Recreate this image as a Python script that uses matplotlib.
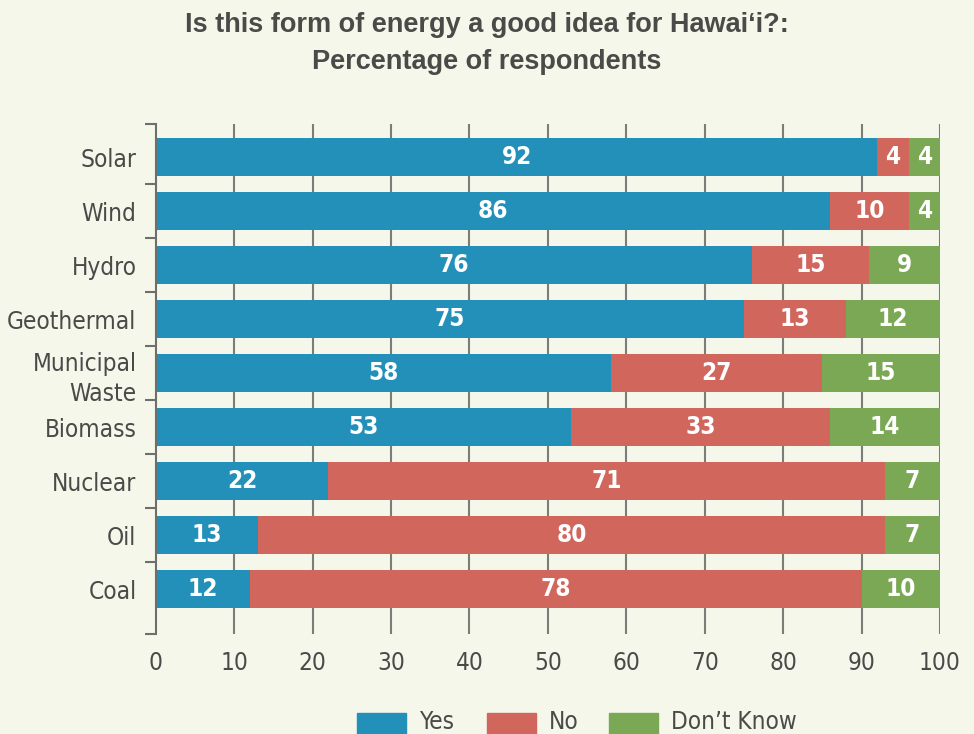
import os
import matplotlib.pyplot as plt
import matplotlib.font_manager as fm
from matplotlib.patches import Rectangle
import numpy as np

# data
sources = ['Solar', 'Wind', 'Hydro', 'Geothermal', 'Municipal\nWaste',
           'Biomass', 'Nuclear', 'Oil', 'Coal']
yes = [92, 86, 76, 75, 58, 53, 22, 13, 12]
no = [4, 10, 15, 13, 27, 33, 71, 80, 78]
dont_know = [4, 4, 9, 12, 15, 14, 7, 7, 10]
series_names = ['Yes', 'No', 'Don\u2019t Know']


def pick(files, fallback_bold=False):
    # find a font file by name, else DejaVu
    for n in files:
        for f in fm.fontManager.ttflist:
            if os.path.basename(f.fname) == n:
                return f.fname
    return fm.findfont(fm.FontProperties(family='DejaVu Sans',
                                         weight='bold' if fallback_bold else 'normal'))


narrow = pick(['LiberationSansNarrow-Regular.ttf', 'DejaVuSansCondensed.ttf'])
narrow_b = pick(['LiberationSansNarrow-Bold.ttf', 'DejaVuSansCondensed-Bold.ttf'], True)
title_f = pick(['LiberationSans-Bold.ttf'], True)


def fp(path, size):
    return fm.FontProperties(fname=path, size=size)


bg = '#f4f7ea'
txt = '#4a4a48'
colors = ['#2290b9', '#d1665c', '#7aa854']
fsize = 17.5

fig = plt.figure(figsize=(9.74, 7.34), dpi=100, facecolor=bg)
ax = fig.add_axes([0.160, 0.1362, 0.805, 0.6948], facecolor=bg)

y = np.arange(len(sources))
left = np.zeros(len(sources))
for vals, c in zip([yes, no, dont_know], colors):
    vals = np.array(vals)
    ax.barh(y, vals, left=left, height=0.717, color=c, zorder=3)
    for yi, l, v in zip(y, left, vals):
        ax.text(l + v / 2, yi, str(v), ha='center', va='center', color='white',
                fontproperties=fp(narrow_b, fsize), zorder=4)
    left += vals

# axis runs a little past the first and last category
y_top = -0.5 - 6 / 54
y_bot = len(sources) - 0.5 + 18 / 54
ax.set_xlim(0, 100)
ax.set_ylim(y_bot, y_top)

# vertical grid lines
for xv in range(10, 101, 10):
    ax.axvline(xv, color='#7d7d78', lw=1.5, zorder=1)

for s in ['top', 'right', 'bottom']:
    ax.spines[s].set_visible(False)
ax.spines['left'].set_color('#6e6e6a')
ax.spines['left'].set_linewidth(1.5)
ax.spines['left'].set_zorder(5)

# boundary ticks plus the two axis ends
ax.set_yticks([y_top] + list(np.arange(0.5, len(sources) - 1, 1)) + [y_bot])
ax.set_yticklabels([])
ax.tick_params(axis='y', length=8, width=1.5, color='#6e6e6a', direction='out')
ax.set_yticks(y, minor=True)
ax.set_yticklabels(sources, minor=True, color=txt, linespacing=1.35)
ax.tick_params(axis='y', which='minor', length=0, pad=14)
for lab in ax.get_yticklabels(minor=True):
    lab.set_fontproperties(fp(narrow, fsize))

ax.set_xticks(range(0, 101, 10))
ax.tick_params(axis='x', length=0, labelcolor=txt, pad=12)
for lab in ax.get_xticklabels():
    lab.set_fontproperties(fp(narrow, fsize))

fig.text(0.5, 0.966, 'Is this form of energy a good idea for Hawai\u2018i?:',
         ha='center', va='center', color=txt, fontproperties=fp(title_f, 19.5))
fig.text(0.5, 0.915, 'Percentage of respondents',
         ha='center', va='center', color=txt, fontproperties=fp(title_f, 19.5))

# legend drawn along the bottom edge
W, H = 974.0, 734.0
leg_x = [357, 487, 609]
for name, c, lx in zip(series_names, colors, leg_x):
    fig.patches.append(Rectangle((lx / W, 0), 49 / W, 21 / H, color=c,
                                 transform=fig.transFigure, figure=fig))
    fig.text((lx + 62) / W, 1 - 729 / H, name, ha='left', va='baseline',
             color=txt, fontproperties=fp(narrow, fsize))

fig.savefig('out.png', dpi=100, facecolor=bg)
